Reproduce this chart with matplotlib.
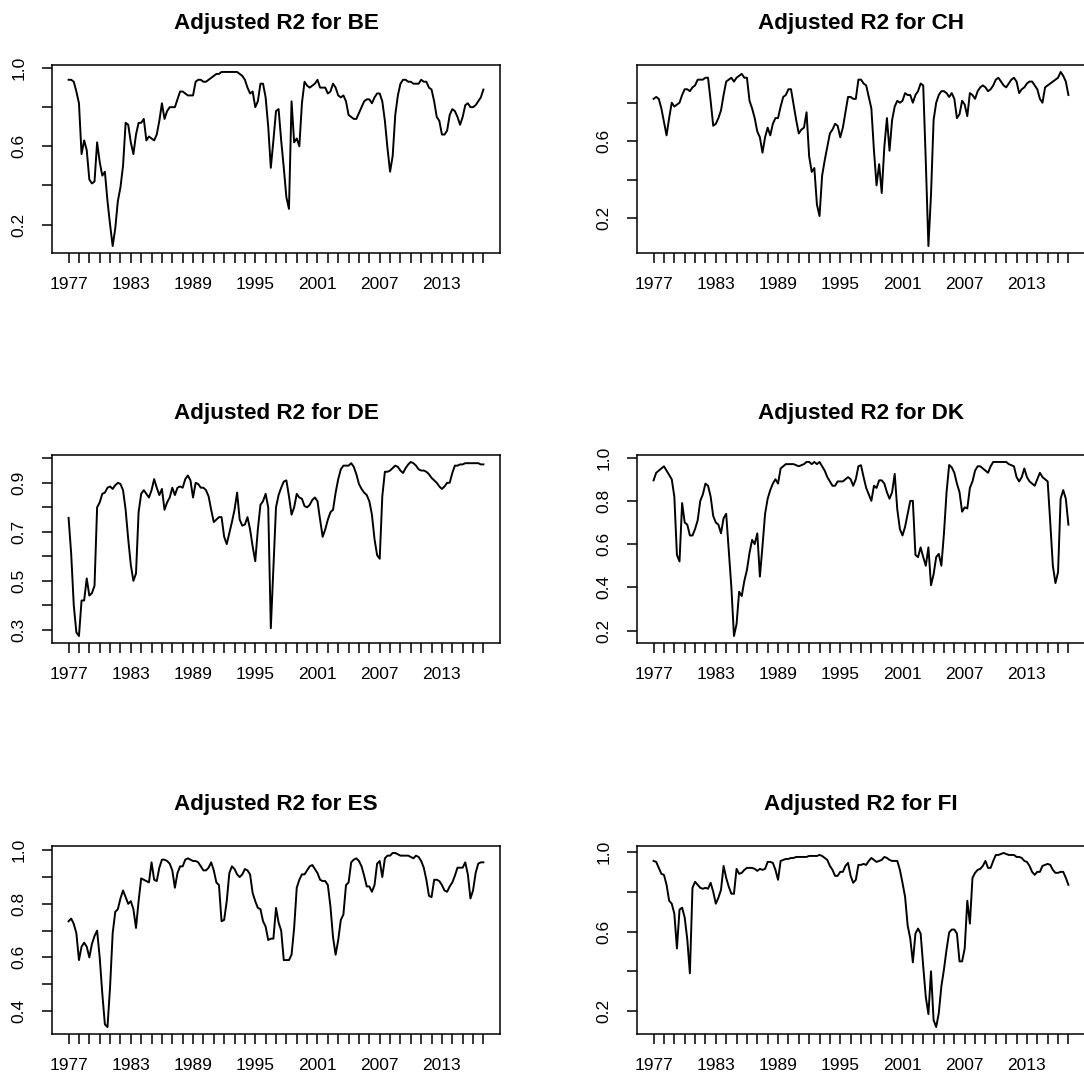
import numpy as np
import matplotlib
matplotlib.use("Agg")
import matplotlib.pyplot as plt

plt.rcParams['font.family'] = ['Liberation Sans', 'DejaVu Sans']

# quarterly dates 1977Q1 .. 2017Q1
quarters = 1977 + np.arange(161) / 4.0
year_ticks = list(range(1977, 2018))
year_labels = [str(y) if (y - 1977) % 6 == 0 else '' for y in year_ticks]

countries = ['BE', 'CH', 'DE', 'DK', 'ES', 'FI']

be = [0.94, 0.94, 0.93, 0.88, 0.82, 0.56, 0.63, 0.58,
      0.43, 0.41, 0.42, 0.62, 0.52, 0.45, 0.47, 0.32,
      0.20, 0.09, 0.18, 0.32, 0.39, 0.50, 0.72, 0.71,
      0.62, 0.56, 0.66, 0.72, 0.72, 0.74, 0.63, 0.65,
      0.64, 0.63, 0.66, 0.73, 0.82, 0.74, 0.78, 0.80,
      0.80, 0.80, 0.84, 0.88, 0.88, 0.87, 0.86, 0.86,
      0.86, 0.93, 0.94, 0.94, 0.93, 0.93, 0.94, 0.95,
      0.96, 0.97, 0.97, 0.98, 0.98, 0.98, 0.98, 0.98,
      0.98, 0.98, 0.97, 0.96, 0.94, 0.90, 0.87, 0.88,
      0.80, 0.83, 0.92, 0.92, 0.85, 0.70, 0.49, 0.63,
      0.78, 0.79, 0.63, 0.49, 0.34, 0.28, 0.83, 0.62,
      0.64, 0.60, 0.82, 0.93, 0.91, 0.90, 0.91, 0.92,
      0.94, 0.90, 0.90, 0.90, 0.87, 0.88, 0.92, 0.90,
      0.86, 0.85, 0.86, 0.83, 0.76, 0.75, 0.74, 0.74,
      0.77, 0.80, 0.83, 0.84, 0.84, 0.82, 0.85, 0.87,
      0.87, 0.83, 0.73, 0.59, 0.47, 0.55, 0.76, 0.86,
      0.92, 0.94, 0.94, 0.93, 0.93, 0.92, 0.92, 0.92,
      0.94, 0.93, 0.93, 0.90, 0.89, 0.83, 0.75, 0.73,
      0.66, 0.66, 0.68, 0.76, 0.79, 0.78, 0.75, 0.71,
      0.75, 0.81, 0.82, 0.80, 0.80, 0.81, 0.83, 0.85,
      0.89]

ch = [0.82, 0.83, 0.82, 0.77, 0.70, 0.63, 0.72, 0.80, 0.78, 0.79,
      0.80, 0.84, 0.87, 0.87, 0.86, 0.88, 0.89, 0.92, 0.92, 0.92,
      0.93, 0.93, 0.81, 0.68, 0.69, 0.72, 0.76, 0.84, 0.91, 0.92,
      0.93, 0.91, 0.93, 0.94, 0.95, 0.93, 0.93, 0.81, 0.77, 0.72,
      0.65, 0.62, 0.54, 0.62, 0.67, 0.63, 0.69, 0.72, 0.72, 0.78,
      0.83, 0.84, 0.87, 0.87, 0.79, 0.71, 0.64, 0.66, 0.67, 0.75,
      0.52, 0.44, 0.46, 0.27, 0.21, 0.42, 0.50, 0.57, 0.64, 0.66,
      0.69, 0.68, 0.62, 0.67, 0.75, 0.83, 0.83, 0.82, 0.82, 0.92,
      0.92, 0.90, 0.89, 0.83, 0.77, 0.55, 0.37, 0.48, 0.33, 0.57,
      0.72, 0.55, 0.71, 0.78, 0.81, 0.80, 0.81, 0.85, 0.84, 0.84,
      0.80, 0.84, 0.86, 0.90, 0.89, 0.49, 0.054, 0.32, 0.71, 0.80,
      0.84, 0.86, 0.86, 0.85, 0.83, 0.85, 0.82, 0.72, 0.74, 0.81,
      0.79, 0.73, 0.85, 0.84, 0.82, 0.86, 0.88, 0.89, 0.88, 0.86,
      0.87, 0.89, 0.92, 0.93, 0.91, 0.89, 0.88, 0.90, 0.92, 0.93,
      0.91, 0.85, 0.87, 0.88, 0.90, 0.91, 0.91, 0.89, 0.87, 0.82,
      0.80, 0.88, 0.89, 0.90, 0.91, 0.92, 0.93, 0.96, 0.94, 0.91,
      0.84]

de = [0.757, 0.61, 0.40, 0.29, 0.275, 0.42, 0.42, 0.51,
      0.44, 0.45, 0.48, 0.80, 0.82, 0.855, 0.86, 0.88,
      0.885, 0.875, 0.89, 0.90, 0.895, 0.87, 0.79, 0.67,
      0.565, 0.50, 0.53, 0.78, 0.855, 0.87, 0.855, 0.84,
      0.87, 0.915, 0.88, 0.85, 0.875, 0.79, 0.82, 0.84,
      0.88, 0.85, 0.88, 0.885, 0.88, 0.915, 0.93, 0.91,
      0.84, 0.90, 0.895, 0.88, 0.88, 0.87, 0.845, 0.79,
      0.74, 0.75, 0.76, 0.76, 0.68, 0.65, 0.695, 0.74,
      0.79, 0.86, 0.75, 0.725, 0.73, 0.76, 0.71, 0.64,
      0.58, 0.71, 0.81, 0.825, 0.855, 0.80, 0.307, 0.55,
      0.80, 0.85, 0.88, 0.905, 0.91, 0.845, 0.77, 0.80,
      0.855, 0.84, 0.835, 0.805, 0.80, 0.81, 0.83, 0.84,
      0.825, 0.75, 0.68, 0.71, 0.75, 0.78, 0.79, 0.86,
      0.915, 0.955, 0.97, 0.97, 0.97, 0.98, 0.965, 0.935,
      0.895, 0.875, 0.86, 0.85, 0.825, 0.77, 0.67, 0.605,
      0.59, 0.845, 0.945, 0.945, 0.95, 0.96, 0.97, 0.965,
      0.95, 0.94, 0.96, 0.975, 0.985, 0.98, 0.97, 0.955,
      0.95, 0.95, 0.945, 0.935, 0.92, 0.91, 0.90, 0.885,
      0.875, 0.885, 0.90, 0.90, 0.94, 0.97, 0.97, 0.975,
      0.975, 0.98, 0.98, 0.98, 0.98, 0.98, 0.98, 0.975,
      0.975]

dk = [0.895, 0.93, 0.94, 0.95, 0.96, 0.94, 0.92, 0.90,
      0.82, 0.55, 0.52, 0.79, 0.70, 0.69, 0.64, 0.64,
      0.67, 0.71, 0.80, 0.83, 0.88, 0.87, 0.82, 0.73,
      0.70, 0.69, 0.65, 0.72, 0.74, 0.57, 0.40, 0.175,
      0.23, 0.38, 0.36, 0.43, 0.48, 0.56, 0.62, 0.60,
      0.65, 0.45, 0.59, 0.74, 0.81, 0.85, 0.88, 0.90,
      0.88, 0.95, 0.96, 0.97, 0.97, 0.97, 0.97, 0.965,
      0.96, 0.965, 0.97, 0.98, 0.98, 0.97, 0.98, 0.97,
      0.98, 0.96, 0.94, 0.91, 0.89, 0.87, 0.87, 0.89,
      0.89, 0.89, 0.90, 0.91, 0.90, 0.87, 0.90, 0.96,
      0.965, 0.91, 0.86, 0.83, 0.80, 0.87, 0.86, 0.895,
      0.895, 0.88, 0.84, 0.81, 0.84, 0.925, 0.76, 0.67,
      0.64, 0.68, 0.74, 0.80, 0.80, 0.55, 0.54, 0.585,
      0.54, 0.50, 0.585, 0.41, 0.46, 0.54, 0.555, 0.50,
      0.65, 0.84, 0.966, 0.955, 0.93, 0.88, 0.84, 0.75,
      0.77, 0.765, 0.86, 0.89, 0.94, 0.96, 0.96, 0.95,
      0.94, 0.93, 0.96, 0.98, 0.98, 0.98, 0.98, 0.98,
      0.98, 0.97, 0.965, 0.96, 0.91, 0.89, 0.91, 0.95,
      0.91, 0.89, 0.88, 0.87, 0.90, 0.93, 0.91, 0.90,
      0.89, 0.70, 0.50, 0.42, 0.47, 0.81, 0.85, 0.81,
      0.69]

es = [0.735, 0.745, 0.725, 0.69, 0.59, 0.64, 0.655, 0.64,
      0.60, 0.65, 0.68, 0.70, 0.60, 0.465, 0.35, 0.34,
      0.49, 0.69, 0.77, 0.78, 0.82, 0.85, 0.825, 0.80,
      0.81, 0.78, 0.71, 0.81, 0.895, 0.89, 0.885, 0.88,
      0.955, 0.89, 0.885, 0.935, 0.965, 0.965, 0.96, 0.95,
      0.925, 0.86, 0.915, 0.94, 0.94, 0.965, 0.97, 0.965,
      0.96, 0.96, 0.955, 0.94, 0.925, 0.925, 0.935, 0.955,
      0.925, 0.88, 0.87, 0.735, 0.74, 0.81, 0.915, 0.94,
      0.93, 0.91, 0.90, 0.91, 0.93, 0.925, 0.91, 0.84,
      0.81, 0.785, 0.78, 0.735, 0.715, 0.665, 0.67, 0.67,
      0.785, 0.73, 0.70, 0.59, 0.59, 0.59, 0.61, 0.71,
      0.86, 0.89, 0.91, 0.91, 0.925, 0.94, 0.945, 0.93,
      0.915, 0.89, 0.885, 0.885, 0.87, 0.79, 0.675, 0.61,
      0.665, 0.74, 0.76, 0.87, 0.88, 0.955, 0.965, 0.97,
      0.96, 0.94, 0.905, 0.865, 0.865, 0.845, 0.87, 0.95,
      0.96, 0.90, 0.97, 0.98, 0.98, 0.99, 0.99, 0.985,
      0.98, 0.98, 0.98, 0.98, 0.975, 0.97, 0.98, 0.975,
      0.96, 0.935, 0.89, 0.83, 0.825, 0.89, 0.89, 0.885,
      0.87, 0.85, 0.845, 0.865, 0.88, 0.905, 0.935, 0.935,
      0.935, 0.955, 0.91, 0.82, 0.85, 0.915, 0.95, 0.955,
      0.955]

fi = [0.955, 0.95, 0.92, 0.89, 0.885, 0.835, 0.755, 0.74,
      0.69, 0.515, 0.71, 0.72, 0.67, 0.56, 0.39, 0.82,
      0.85, 0.835, 0.82, 0.815, 0.82, 0.815, 0.845, 0.80,
      0.74, 0.77, 0.81, 0.93, 0.87, 0.825, 0.79, 0.79,
      0.915, 0.89, 0.895, 0.91, 0.92, 0.92, 0.92, 0.915,
      0.905, 0.915, 0.91, 0.915, 0.95, 0.95, 0.945, 0.91,
      0.86, 0.955, 0.96, 0.965, 0.965, 0.97, 0.97, 0.975,
      0.975, 0.975, 0.975, 0.975, 0.98, 0.98, 0.98, 0.98,
      0.985, 0.98, 0.97, 0.96, 0.93, 0.91, 0.88, 0.88,
      0.90, 0.90, 0.93, 0.945, 0.88, 0.845, 0.86, 0.935,
      0.935, 0.94, 0.935, 0.955, 0.97, 0.96, 0.95, 0.955,
      0.96, 0.975, 0.97, 0.96, 0.955, 0.955, 0.955, 0.91,
      0.845, 0.775, 0.63, 0.565, 0.445, 0.59, 0.615, 0.59,
      0.425, 0.27, 0.185, 0.40, 0.155, 0.12, 0.19, 0.325,
      0.41, 0.51, 0.595, 0.61, 0.61, 0.59, 0.45, 0.45,
      0.515, 0.755, 0.64, 0.87, 0.895, 0.91, 0.915, 0.93,
      0.955, 0.92, 0.92, 0.955, 0.985, 0.985, 0.99, 0.995,
      0.99, 0.985, 0.985, 0.985, 0.975, 0.975, 0.97, 0.955,
      0.95, 0.93, 0.90, 0.885, 0.90, 0.90, 0.93, 0.935,
      0.94, 0.935, 0.91, 0.895, 0.895, 0.90, 0.90, 0.87,
      0.835]

series = [be, ch, de, dk, es, fi]

# y axis ticks as R drew them (some tick labels were dropped)
y_ticks = [[0.2, 0.4, 0.6, 0.8, 1.0],
           [0.2, 0.4, 0.6, 0.8],
           [0.3, 0.4, 0.5, 0.6, 0.7, 0.8, 0.9, 1.0],
           [0.2, 0.4, 0.6, 0.8, 1.0],
           [0.4, 0.5, 0.6, 0.7, 0.8, 0.9, 1.0],
           [0.2, 0.4, 0.6, 0.8, 1.0]]
y_labels = [['0.2', '', '0.6', '', '1.0'],
            ['0.2', '', '0.6', ''],
            ['0.3', '', '0.5', '', '0.7', '', '0.9', ''],
            ['0.2', '0.4', '0.6', '0.8', '1.0'],
            ['0.4', '', '0.6', '', '0.8', '', '1.0'],
            ['0.2', '', '0.6', '', '1.0']]

W, H = 1084.0, 1082.0
fig = plt.figure(figsize=(W / 100, H / 100), dpi=100)
lefts = [52, 637]
tops = [65, 455, 846]
bw, bh = 448, 188

for k in range(6):
    r, c = divmod(k, 2)
    ax = fig.add_axes([lefts[c] / W, 1 - (tops[r] + bh) / H, bw / W, bh / H])
    vals = np.array(series[k])
    ax.plot(quarters, vals, color='black', lw=1.4)

    ax.set_xticks(year_ticks)
    ax.set_xticklabels(year_labels)
    ax.set_yticks(y_ticks[k])
    ax.set_yticklabels(y_labels[k], rotation=90, va='center', ha='center')

    # R style 4% padding
    lo, hi = vals.min(), vals.max()
    ax.set_ylim(lo - 0.04 * (hi - lo), hi + 0.04 * (hi - lo))
    ax.set_xlim(1977 - 0.04 * 40, 2017 + 0.04 * 40)

    ax.tick_params(length=7.2, width=1.1, labelsize=12.5, colors='black')
    ax.tick_params(axis='x', pad=10)
    ax.tick_params(axis='y', pad=16.5)
    for s in ax.spines.values():
        s.set_linewidth(1.1)
    ax.set_title('Adjusted R2 for ' + countries[k], fontsize=16.2,
                 fontweight='bold', pad=26)

fig.savefig('out.png', dpi=100)
